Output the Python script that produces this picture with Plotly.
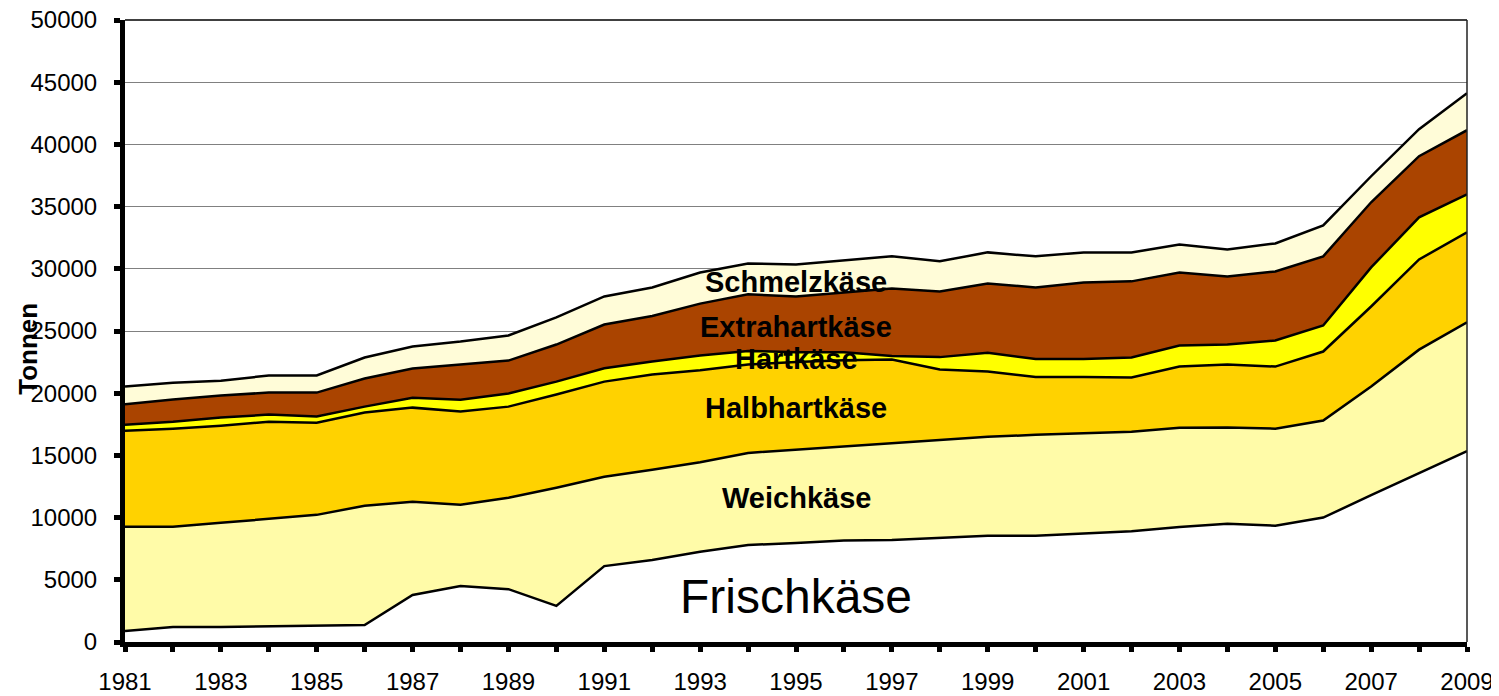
import plotly.graph_objects as go

years = list(range(1981, 2010))

frischkaese = [880, 1200, 1200, 1250, 1350, 1370, 3780, 4500, 4250, 2900, 6100, 6600, 7250, 7800, 7950,
               8150, 8200, 8350, 8550, 8550, 8700, 8900, 9250, 9500, 9350, 10000, 11800, 13600, 15350]
weichkaese = [8380, 8060, 8380, 8650, 8870, 9580, 7490, 6530, 7340, 9500, 7190, 7250, 7200, 7400, 7500,
              7550, 7750, 7900, 7950, 8100, 8100, 8000, 7980, 7750, 7800, 7800, 8730, 9900, 10350]
halbhartkaese = [7730, 7890, 7810, 7810, 7410, 7490, 7570, 7490, 7330, 7490, 7640, 7650, 7400, 7100, 7050,
                 6950, 6750, 5650, 5250, 4650, 4500, 4360, 4910, 5050, 4990, 5550, 6440, 7250, 7230]
hartkaese = [480, 560, 650, 570, 490, 480, 800, 960, 1050, 1040, 1070, 1050, 1180, 1100, 800,
             650, 300, 1000, 1500, 1450, 1450, 1610, 1690, 1610, 2100, 2090, 3140, 3390, 3060]
extrahartkaese = [1650, 1790, 1770, 1770, 1930, 2260, 2340, 2820, 2650, 2980, 3520, 3650, 4170, 4550, 4480,
                  4800, 5420, 5280, 5570, 5750, 6150, 6120, 5880, 5480, 5550, 5560, 5240, 4910, 5150]
schmelzkaese = [1410, 1350, 1200, 1370, 1370, 1690, 1770, 1850, 2020, 2180, 2260, 2300, 2500, 2480, 2570,
                2580, 2580, 2420, 2500, 2500, 2420, 2330, 2250, 2170, 2250, 2490, 2090, 2170, 2980]

series = [
    ("Frischkäse", frischkaese, "#FFFFFF"),
    ("Weichkäse", weichkaese, "#FFFBA8"),
    ("Halbhartkäse", halbhartkaese, "#FFD200"),
    ("Hartkäse", hartkaese, "#FFFF00"),
    ("Extrahartkäse", extrahartkaese, "#AA4400"),
    ("Schmelzkäse", schmelzkaese, "#FFFCD8"),
]

y_ticks = list(range(0, 50001, 5000))
y_ticktext = [str(v) for v in y_ticks]
x_ticktext = [str(y) if (y - 1981) % 2 == 0 else "" for y in years]

fig = go.Figure()
for name, vals, col in series:
    fig.add_trace(go.Scatter(
        x=years, y=vals, name=name, mode="lines", stackgroup="one",
        line=dict(color="black", width=2.5), fillcolor=col,
    ))

labels = [
    ("Schmelzkäse", 1995, 28900, 29, True),
    ("Extrahartkäse", 1995, 25350, 29, True),
    ("Hartkäse", 1995, 22750, 29, True),
    ("Halbhartkäse", 1995, 18800, 29, True),
    ("Weichkäse", 1995, 11600, 29, True),
    ("Frischkäse", 1995, 3650, 48, False),
]
for text, x, y, size, bold in labels:
    fig.add_annotation(x=x, y=y, text=f"<b>{text}</b>" if bold else text, showarrow=False,
                       xanchor="center", yanchor="middle",
                       font=dict(family="Liberation Sans, Arial", size=size, color="black"))

fig.add_annotation(xref="paper", yref="paper", x=-0.0725, y=0.471, text="<b>Tonnen</b>", textangle=-90,
                   showarrow=False, xanchor="center", yanchor="middle",
                   font=dict(family="Liberation Sans, Arial", size=26, color="black"))

fig.add_shape(type="line", xref="paper", yref="paper", x0=0, x1=1, y0=1, y1=1,
              line=dict(color="black", width=1.5))
fig.add_shape(type="line", xref="paper", yref="paper", x0=1, x1=1, y0=0, y1=1,
              line=dict(color="#222222", width=1.5))

fig.update_layout(
    width=1491, height=688,
    margin=dict(l=117, r=32, t=12, b=54),
    paper_bgcolor="white", plot_bgcolor="white",
    showlegend=False,
    font=dict(family="Liberation Sans, Arial", size=24, color="black"),
    xaxis=dict(range=[1981, 2009], tickvals=years, ticktext=x_ticktext, showgrid=False,
               showline=True, linecolor="black", linewidth=5, ticks="outside", ticklen=5,
               tickwidth=5, tickcolor="black", zeroline=False, automargin=False,
               ticklabelstandoff=9, ticklabeloverflow="allow", tickfont=dict(size=24)),
    yaxis=dict(range=[0, 50000], tickvals=y_ticks, ticktext=y_ticktext, showgrid=True,
               gridcolor="#808080", gridwidth=1, showline=True, linecolor="black", linewidth=5,
               ticks="outside", ticklen=6, tickwidth=5, tickcolor="black", zeroline=False,
               automargin=False, ticklabelstandoff=12, ticklabeloverflow="allow",
               tickfont=dict(size=24)),
)

fig.write_html("out.html")
